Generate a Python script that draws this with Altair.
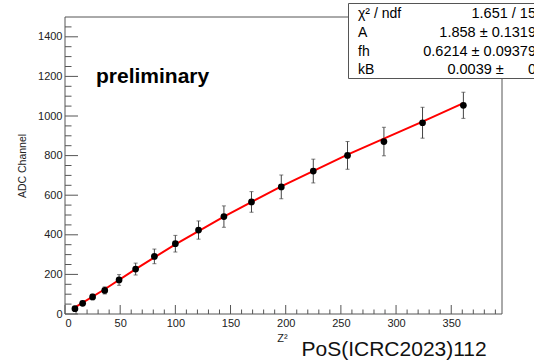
import altair as alt
import pandas as pd

# ---- data ----
z2 = [9, 16, 25, 36, 49, 64, 81, 100, 121, 144, 169, 196, 225, 256, 289, 324, 361]
adc = [27, 54, 86, 119, 172, 227, 291, 355, 424, 492, 566, 642, 722, 801, 871, 966, 1054]
err = [8, 10, 14, 18, 27, 30, 37, 42, 46, 54, 52, 60, 60, 70, 72, 78, 66]

fit_x = [9, 36, 64, 100, 144, 196, 256, 324, 361]
fit_y = [33, 125, 227, 352, 492, 645, 805, 972, 1065]

x_major = [0, 50, 100, 150, 200, 250, 300, 350]
x_minor = [v for v in range(0, 396, 10) if v % 50 != 0]
y_major = [0, 200, 400, 600, 800, 1000, 1200, 1400]
y_minor = [v for v in range(0, 1500, 50) if v % 200 != 0]

stat_names = ["χ² / ndf", "A", "fh", "kB"]
stat_values = ["1.651 / 15", "1.858 ± 0.1319", "0.6214 ± 0.09379",
               "0.0039 ±\u00a0\u00a0\u00a0\u00a0\u00a0\u00a00"]

W, H = 437, 297
FONT = "Liberation Sans"
LINE = "#555555"

xscale = alt.Scale(domain=[0, 396], nice=False, zero=False)
yscale = alt.Scale(domain=[0, 1500], nice=False, zero=False)

xaxis = alt.Axis(values=x_major, format="d", title="Z²", labelPadding=3,
                 titleX=217, titleY=24, titleAlign="center", titleBaseline="middle",
                 titleFontSize=11, titleFontWeight="normal", titleFont=FONT,
                 titleColor="#222222")
yaxis = alt.Axis(values=y_major, format="d", title="ADC Channel", labelPadding=3,
                 titleAngle=270, titleX=-43, titleY=148.5, titleAlign="center",
                 titleBaseline="middle", titleFontSize=10.5, titleFontWeight="normal",
                 titleFont=FONT, titleColor="#222222")


def X(f):
    return alt.X(f, scale=xscale, axis=xaxis)


def Y(f):
    return alt.Y(f, scale=yscale, axis=yaxis)


pts = pd.DataFrame({"z2": z2, "adc": adc, "err": err})
pts["lo"] = pts["adc"] - pts["err"]
pts["hi"] = pts["adc"] + pts["err"]
fit = pd.DataFrame({"z2": fit_x, "adc": fit_y})
one = alt.Data(values=[{}])

frame = alt.Chart(one).mark_rect(fill="white", stroke=LINE, strokeWidth=1).encode(
    x=alt.value(0), x2=alt.value(W), y=alt.value(0), y2=alt.value(H))

xt_major = alt.Chart(pd.DataFrame({"z2": x_major})).mark_rule(color=LINE).encode(
    x=X("z2:Q"), y=alt.value(H), y2=alt.value(H - 9))
xt_minor = alt.Chart(pd.DataFrame({"z2": x_minor})).mark_rule(color=LINE).encode(
    x=X("z2:Q"), y=alt.value(H), y2=alt.value(H - 4.5))
yt_major = alt.Chart(pd.DataFrame({"adc": y_major})).mark_rule(color=LINE).encode(
    y=Y("adc:Q"), x=alt.value(0), x2=alt.value(13))
yt_minor = alt.Chart(pd.DataFrame({"adc": y_minor})).mark_rule(color=LINE).encode(
    y=Y("adc:Q"), x=alt.value(0), x2=alt.value(6.5))

bars = alt.Chart(pts).mark_rule(color="#444444", strokeWidth=1).encode(
    x=X("z2:Q"), y=Y("lo:Q"), y2="hi:Q")
cap_lo = alt.Chart(pts).mark_tick(color="#444444", orient="horizontal", size=4, thickness=1).encode(
    x=X("z2:Q"), y=Y("lo:Q"))
cap_hi = alt.Chart(pts).mark_tick(color="#444444", orient="horizontal", size=4, thickness=1).encode(
    x=X("z2:Q"), y=Y("hi:Q"))

line = alt.Chart(fit).mark_line(color="#ff0000", strokeWidth=2).encode(
    x=X("z2:Q"), y=Y("adc:Q"))

dots = alt.Chart(pts).mark_circle(size=45, color="black", opacity=1).encode(
    x=X("z2:Q"), y=Y("adc:Q"))

prelim = alt.Chart(one).mark_text(text="preliminary", font=FONT, fontSize=21, fontWeight="bold",
                                  align="left", baseline="alphabetic", color="black").encode(
    x=alt.value(31), y=alt.value(66))
pos = alt.Chart(one).mark_text(text="PoS(ICRC2023)112", font=FONT, fontSize=21,
                               align="left", baseline="alphabetic", color="#111111").encode(
    x=alt.value(236.5), y=alt.value(339))

box = alt.Chart(one).mark_rect(fill="white", stroke=LINE, strokeWidth=1).encode(
    x=alt.value(283.5), x2=alt.value(480), y=alt.value(-13.5), y2=alt.value(61.5))

row_y = [-3, 15.7, 34.7, 53.2]
stat_layers = []
for name, val, yy in zip(stat_names, stat_values, row_y):
    stat_layers.append(alt.Chart(one).mark_text(text=name, font=FONT, fontSize=14, align="left",
                                                baseline="middle", color="black").encode(
        x=alt.value(293), y=alt.value(yy)))
    stat_layers.append(alt.Chart(one).mark_text(text=val, font=FONT, fontSize=14.5, align="right",
                                                baseline="middle", color="black").encode(
        x=alt.value(471), y=alt.value(yy)))

chart = alt.layer(
    frame, xt_major, xt_minor, yt_major, yt_minor, bars, cap_lo, cap_hi, line, dots,
    prelim, pos, box, *stat_layers
).properties(
    width=W, height=H,
    autosize=alt.AutoSizeParams(type="none"),
    padding={"left": 65, "top": 17, "right": 32, "bottom": 48},
    background="white",
).configure_view(strokeWidth=0).configure_axis(
    labelFont=FONT, labelFontSize=11, labelColor="#222222", grid=False,
    domain=False, ticks=False,
)

chart.save("out.html", embed_options={"renderer": "svg", "actions": False})
